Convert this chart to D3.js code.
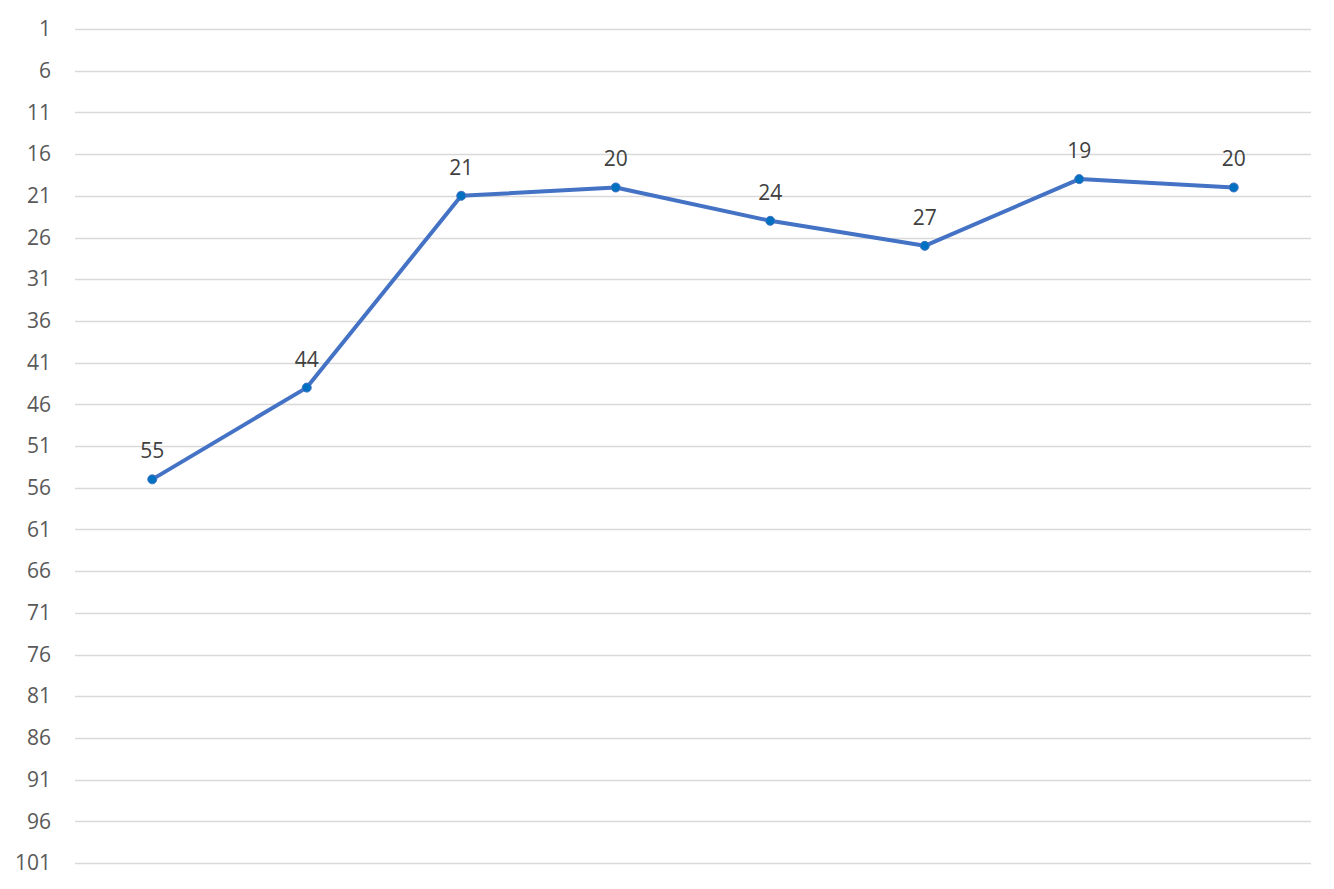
<!DOCTYPE html>
<html>
<head>
<meta charset="utf-8">
<script src="https://cdn.jsdelivr.net/npm/d3@7"></script>
<style>
  body { margin: 0; background: #fff; }
  svg { display: block; font-family: "Open Sans", "Noto Sans", sans-serif; }
</style>
</head>
<body>
<svg></svg>
<script>
// rank line chart, reversed y axis

var categories = ["1", "2", "3", "4", "5", "6", "7", "8"];
var values = [55, 44, 21, 20, 24, 27, 19, 20];
var yTicks = [1, 6, 11, 16, 21, 26, 31, 36, 41, 46, 51, 56, 61, 66, 71, 76, 81, 86, 91, 96, 101];

var svgWidth = 1334, svgHeight = 889;
var margin = {top: 29, right: 23, bottom: 26, left: 75};

var svg = d3.select("svg")
    .attr("width", svgWidth)
    .attr("height", svgHeight);

var x = d3.scaleBand()
    .domain(categories)
    .range([margin.left, svgWidth - margin.right]);

var y = d3.scaleLinear()
    .domain([1, 101])
    .range([margin.top, svgHeight - margin.bottom]);

// gridlines
svg.append("g")
    .selectAll("line")
    .data(yTicks)
    .enter()
    .append("line")
    .attr("x1", margin.left)
    .attr("x2", svgWidth - margin.right)
    .attr("y1", function(d) { return Math.round(y(d)) + 0.5; })
    .attr("y2", function(d) { return Math.round(y(d)) + 0.5; })
    .attr("stroke", "#d9d9d9")
    .attr("stroke-width", 1.5);

// y axis labels
var yAxis = d3.axisLeft(y).tickValues(yTicks).tickSize(0).tickPadding(0);
var ya = svg.append("g")
    .attr("transform", "translate(51,0)")
    .call(yAxis);
ya.select(".domain").remove();
ya.selectAll("text")
    .attr("fill", "#595959")
    .attr("font-size", "21px")
    .attr("font-family", "'Open Sans', sans-serif");

var line = d3.line()
    .x(function(d, i) { return x(categories[i]) + x.bandwidth() / 2; })
    .y(function(d) { return y(d); });

svg.append("path")
    .datum(values)
    .attr("d", line)
    .attr("fill", "none")
    .attr("stroke", "#4472c4")
    .attr("stroke-width", 4)
    .attr("stroke-linejoin", "round");

svg.append("g")
    .selectAll("circle")
    .data(values)
    .enter()
    .append("circle")
    .attr("cx", function(d, i) { return x(categories[i]) + x.bandwidth() / 2; })
    .attr("cy", function(d) { return y(d); })
    .attr("r", 4.5)
    .attr("fill", "#0070c0")
    .attr("stroke", "#4472c4")
    .attr("stroke-width", 1);

svg.append("g")
    .selectAll("text")
    .data(values)
    .enter()
    .append("text")
    .attr("x", function(d, i) { return x(categories[i]) + x.bandwidth() / 2; })
    .attr("y", function(d) { return y(d) - 21; })
    .attr("text-anchor", "middle")
    .attr("fill", "#404040")
    .attr("font-size", "21px")
    .text(function(d) { return d; });
</script>
</body>
</html>
